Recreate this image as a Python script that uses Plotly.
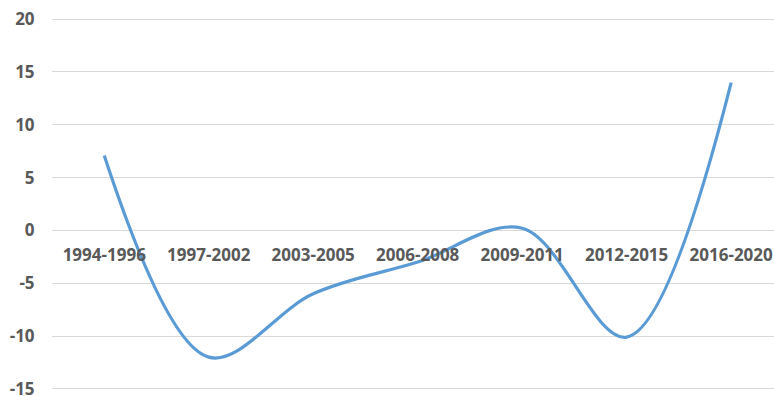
import plotly.graph_objects as go

categories = ["1994-1996", "1997-2002", "2003-2005", "2006-2008", "2009-2011", "2012-2015", "2016-2020"]
values = [7.1, -12.0, -6.0, -3.0, 0.2, -10.1, 14.0]
y_ticks = [-15, -10, -5, 0, 5, 10, 15, 20]
y_ticktext = [str(v) for v in y_ticks]

W, H = 774, 396
mt, mb, ml, mr = 16, 4, 52, 0
ymin, ymax = -15.3, 20.3
zero_pos = (0 - ymin) / (ymax - ymin)

fig = go.Figure()
fig.add_trace(go.Scatter(
    x=list(range(len(categories))), y=values, mode="lines",
    line=dict(color="#5b9bd5", width=3.2, shape="spline", smoothing=1.0),
    hoverinfo="skip", showlegend=False, cliponaxis=False,
))

fontc = dict(family="Open Sans", size=17, color="#595959", weight="bold")

fig.update_layout(
    width=W, height=H,
    margin=dict(l=ml, r=mr, t=mt, b=mb, autoexpand=False),
    plot_bgcolor="white", paper_bgcolor="white",
    xaxis=dict(
        range=[-0.5, 6.41], tickmode="array",
        tickvals=list(range(len(categories))), ticktext=categories,
        showgrid=False, zeroline=False, showline=False,
        anchor="free", position=zero_pos, automargin=False,
        ticks="outside", ticklen=9, tickcolor="rgba(0,0,0,0)",
        tickfont=fontc, ticklabeloverflow="allow",
    ),
    yaxis=dict(
        range=[ymin, ymax], tickmode="array", tickvals=y_ticks,
        ticktext=y_ticktext, automargin=False,
        showgrid=True, gridcolor="#d9d9d9", gridwidth=1,
        zeroline=False, showline=False,
        ticks="outside", ticklen=13, tickcolor="rgba(0,0,0,0)",
        tickfont=fontc, ticklabeloverflow="allow",
    ),
)

fig.write_html("out.html")
